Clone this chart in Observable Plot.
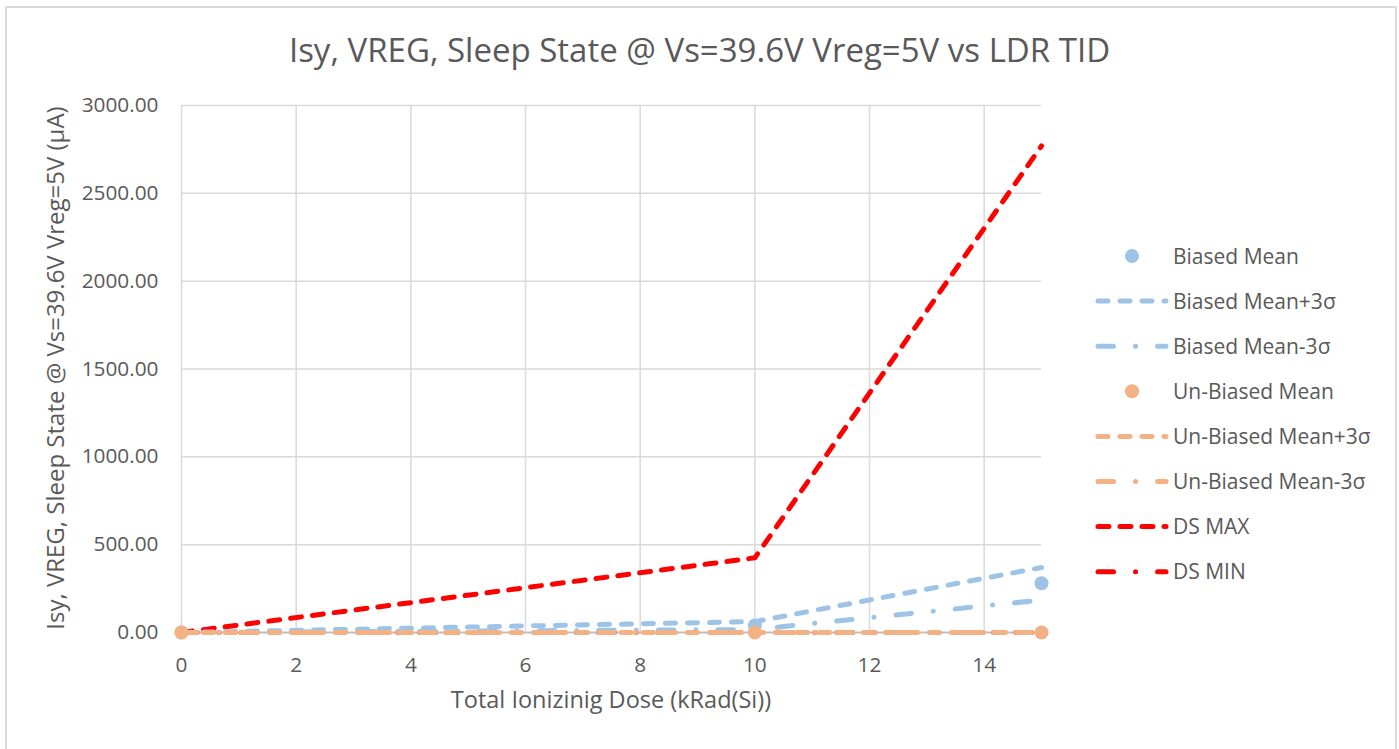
<!DOCTYPE html>
<html><head><meta charset="utf-8">
<script src="https://cdn.jsdelivr.net/npm/d3@7"></script>
<script src="https://cdn.jsdelivr.net/npm/@observablehq/plot@0.6"></script>
<style>
body{margin:0;background:#fff;font-family:"Open Sans",Lato,sans-serif;color:#595959}
#wrap{position:relative;width:1399px;height:749px;overflow:hidden}
#frame{position:absolute;left:5px;top:6px;width:1392px;height:760px;border:2px solid #d9d9d9;box-sizing:border-box}
#title{position:absolute;left:0;width:1399px;top:32.7px;height:33px;line-height:33px;text-align:center;font-size:33px;white-space:nowrap}
#xlabel{position:absolute;left:181px;width:860px;top:688px;height:23.5px;line-height:23.5px;font-size:23.5px;text-align:center;white-space:nowrap}
#ylabel{position:absolute;left:-295.2px;top:356px;width:700px;height:24px;line-height:24px;font-size:24px;text-align:center;white-space:nowrap;transform:rotate(-90deg)}
#chart{position:absolute;left:0;top:0}
#legend{position:absolute;left:0;top:0}
</style></head><body>
<div id="wrap"><div id="frame"></div>
<div id="title">Isy, VREG, Sleep State @ Vs=39.6V Vreg=5V vs LDR TID</div>
<div id="chart"></div>
<div id="xlabel">Total Ionizinig Dose (kRad(Si))</div>
<div id="ylabel">Isy, VREG, Sleep State @ Vs=39.6V Vreg=5V (µA)</div>
<div id="legend"></div></div>
<script>
const dose = [0, 10, 15];
const biasedMean = [0, 40, 280];
const biasedPlus3s = [0, 62, 370];
const biasedMinus3s = [0, 17, 185];
const unbiasedMean = [0, 0, 0];
const unbiasedPlus3s = [0, 0, 0];
const unbiasedMinus3s = [0, 0, 0];
const dsMax = [0, 425, 2770];
const dsMin = [0, 0, 0];
const xTicks = [0, 2, 4, 6, 8, 10, 12, 14];
const yTicks = [0, 500, 1000, 1500, 2000, 2500, 3000];
const seriesNames = ["Biased Mean", "Biased Mean+3σ", "Biased Mean-3σ", "Un-Biased Mean", "Un-Biased Mean+3σ", "Un-Biased Mean-3σ", "DS MAX", "DS MIN"];

const BLUE = "#9dc3e6", ORANGE = "#f4b183", RED = "#ff0000";
const DASH = "10,12", DASHDOT = "15.5,22,0.1,22", REDDASH = "11,11";

const series = [
  {name: seriesNames[0], vals: biasedMean, color: BLUE, kind: "dot"},
  {name: seriesNames[1], vals: biasedPlus3s, color: BLUE, kind: "line", dash: DASH},
  {name: seriesNames[2], vals: biasedMinus3s, color: BLUE, kind: "line", dash: DASHDOT},
  {name: seriesNames[3], vals: unbiasedMean, color: ORANGE, kind: "dot"},
  {name: seriesNames[4], vals: unbiasedPlus3s, color: ORANGE, kind: "line", dash: DASH},
  {name: seriesNames[5], vals: unbiasedMinus3s, color: ORANGE, kind: "line", dash: DASHDOT},
  {name: seriesNames[6], vals: dsMax, color: RED, kind: "line", dash: REDDASH},
  {name: seriesNames[7], vals: dsMin, color: RED, kind: "line", dash: DASHDOT}
];
const rows = s => dose.map((d, i) => ({x: d, y: s.vals[i]}));

const order = [7, 6, 1, 2, 0, 4, 5, 3];
const marks = [
  Plot.gridX(xTicks, {stroke: "#d9d9d9", strokeOpacity: 1, strokeWidth: 1.5}),
  Plot.gridY(yTicks.filter(v => v > 0), {stroke: "#d9d9d9", strokeOpacity: 1, strokeWidth: 1.5}),
  Plot.ruleY([0], {stroke: "#bfbfbf", strokeWidth: 1.8}),
  Plot.axisX({ticks: xTicks, tickSize: 0, tickPadding: 25, label: null}),
  Plot.axisY({ticks: yTicks, tickSize: 0, tickPadding: 23, tickFormat: d3.format(".2f"), label: null})
];
for (const i of order) {
  const s = series[i];
  if (s.kind === "line") {
    marks.push(Plot.line(rows(s), {x: "x", y: "y", stroke: s.color, strokeWidth: 5, strokeDasharray: s.dash, strokeLinecap: "round", strokeLinejoin: "round"}));
  } else {
    marks.push(Plot.dot(rows(s), {x: "x", y: "y", fill: s.color, r: 7, stroke: "none"}));
  }
}

const chart = Plot.plot({
  width: 1100, height: 720,
  marginLeft: 181, marginRight: 59, marginTop: 105, marginBottom: 88,
  x: {domain: [0, 15]},
  y: {domain: [0, 3000]},
  style: {fontFamily: "'Open Sans', Lato, sans-serif", color: "#595959", background: "transparent", fontSize: "20px"},
  marks
});
document.getElementById("chart").appendChild(chart);
chart.querySelectorAll("[aria-label='x-axis tick label'], [aria-label='y-axis tick label']").forEach(g => { g.setAttribute("font-size", "20.8"); g.style.fontSize = "20.8px"; g.setAttribute("fill", "#595959"); });

// legend
const lg = d3.select("#legend").append("svg").attr("width", 1399).attr("height", 749)
  .style("font-family", "'Open Sans', Lato, sans-serif");
series.forEach((s, i) => {
  const cy = 256 + i * 45.1;
  const g = lg.append("g");
  if (s.kind === "dot") {
    g.append("circle").attr("cx", 1132).attr("cy", cy).attr("r", 7).attr("fill", s.color);
  } else {
    g.append("line").attr("x1", 1098).attr("x2", 1166).attr("y1", cy).attr("y2", cy)
      .attr("stroke", s.color).attr("stroke-width", 5).attr("stroke-dasharray", s.dash).attr("stroke-linecap", "round");
  }
  g.append("text").attr("x", 1173).attr("y", cy + 7.5).attr("font-size", 21).attr("fill", "#595959").text(s.name);
});
</script></body></html>
